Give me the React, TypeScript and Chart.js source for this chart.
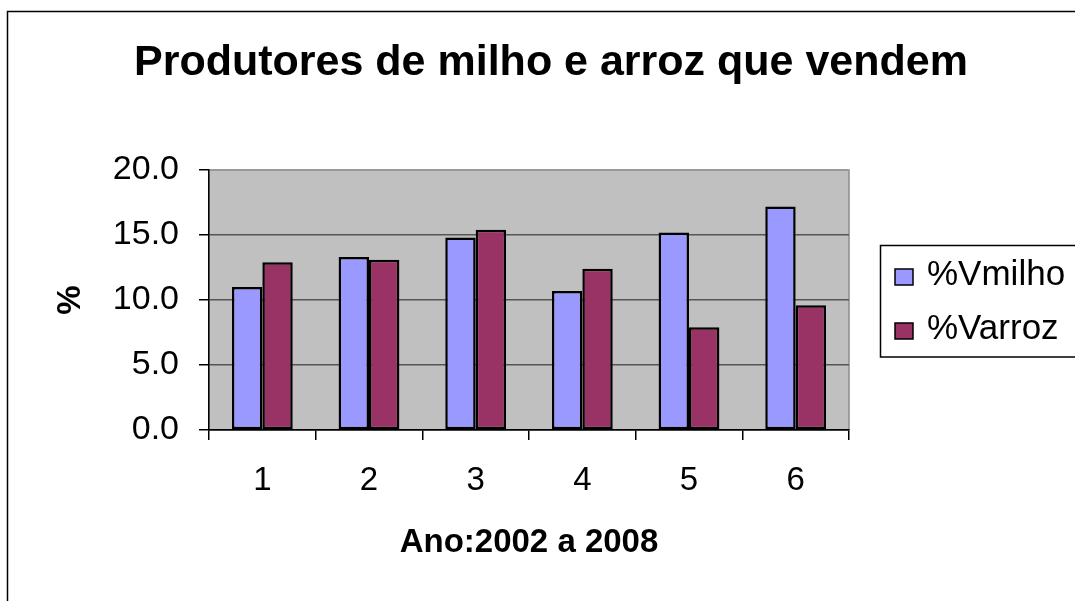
import React, { useEffect, useRef } from 'react';
import { Chart, registerables } from 'chart.js';

Chart.register(...registerables);

const FONT = "'Liberation Sans', Arial, Helvetica, sans-serif";

const categories = ['1', '2', '3', '4', '5', '6'];
const milho = [11.0, 13.3, 14.8, 10.7, 15.2, 17.2];
const arroz = [12.9, 13.1, 15.4, 12.4, 7.9, 9.6];
const seriesLabels = ['%Vmilho', '%Varroz'];
const seriesColors = ['#9999FF', '#993366'];
const yTicks = [0, 5, 10, 15, 20];
const titleText = 'Produtores de milho e arroz que vendem';
const xTitle = 'Ano:2002 a 2008';
const yTitle = '%';

const decor = {
  id: 'decor',
  beforeDraw(chart: any) {
    const ctx = chart.ctx;
    const a = chart.chartArea;
    ctx.save();
    ctx.fillStyle = '#ffffff';
    ctx.fillRect(0, 0, chart.width, chart.height);
    ctx.strokeStyle = '#000000';
    ctx.lineWidth = 1.5;
    ctx.strokeRect(7.5, 11.5, chart.width + 100, chart.height + 100);
    ctx.fillStyle = '#C0C0C0';
    ctx.fillRect(a.left, a.top, a.right - a.left, a.bottom - a.top);
    ctx.strokeStyle = '#8c8c8c';
    ctx.lineWidth = 1.5;
    ctx.strokeRect(a.left, a.top, a.right - a.left, a.bottom - a.top);
    ctx.fillStyle = '#000000';
    ctx.font = `bold 43px ${FONT}`;
    ctx.textAlign = 'center';
    ctx.textBaseline = 'middle';
    ctx.fillText(titleText, 551, 63);
    ctx.restore();
  },
  afterDraw(chart: any) {
    const ctx = chart.ctx;
    ctx.save();
    ctx.strokeStyle = '#000000';
    ctx.lineWidth = 1.5;
    ctx.strokeRect(880.5, 245.5, 400, 111.5);
    const rows = [277, 331];
    chart.data.datasets.forEach((ds: any, i: number) => {
      const cy = rows[i];
      ctx.fillStyle = ds.backgroundColor;
      ctx.fillRect(895, cy - 8, 18, 16);
      ctx.lineWidth = 1.5;
      ctx.strokeStyle = '#000000';
      ctx.strokeRect(895, cy - 8, 18, 16);
      ctx.fillStyle = '#000000';
      ctx.font = `35px ${FONT}`;
      ctx.textAlign = 'left';
      ctx.textBaseline = 'middle';
      ctx.fillText(ds.label, 927, cy - 2);
    });
    ctx.restore();
  },
};

export default function App() {
  const ref = useRef<HTMLCanvasElement | null>(null);

  useEffect(() => {
    if (!ref.current) return;
    const chart = new Chart(ref.current, {
      type: 'bar',
      data: {
        labels: categories,
        datasets: [
          {
            label: seriesLabels[0],
            data: milho,
            backgroundColor: seriesColors[0],
            borderColor: '#000000',
            borderWidth: 2.5,
            borderSkipped: false,
            categoryPercentage: 0.57,
            barPercentage: 1.0,
          },
          {
            label: seriesLabels[1],
            data: arroz,
            backgroundColor: seriesColors[1],
            borderColor: '#000000',
            borderWidth: 2.5,
            borderSkipped: false,
            categoryPercentage: 0.57,
            barPercentage: 1.0,
          },
        ],
      },
      options: {
        animation: false,
        responsive: false,
        devicePixelRatio: 1,
        events: [],
        layout: { padding: { top: 170, right: 226, bottom: 0, left: 0 } },
        plugins: {
          legend: { display: false },
          title: { display: false },
          tooltip: { enabled: false },
        },
        scales: {
          x: {
            grid: {
              offset: true,
              drawOnChartArea: false,
              drawTicks: true,
              tickLength: 10,
              color: '#000000',
              lineWidth: 1.5,
            },
            border: { color: '#000000', width: 1.5 },
            ticks: {
              font: { size: 33, family: FONT },
              color: '#000000',
              padding: 21,
              maxRotation: 0,
            },
            title: {
              display: true,
              text: xTitle,
              color: '#000000',
              font: { size: 33, weight: 'bold', family: FONT },
              padding: { top: 0, bottom: 38 },
            },
            afterFit: (s: any) => {
              s.height = 171;
            },
          },
          y: {
            min: 0,
            max: 20,
            afterBuildTicks: (s: any) => {
              s.ticks = yTicks.map((v) => ({ value: v }));
            },
            ticks: {
              font: { size: 34, family: FONT },
              color: '#000000',
              padding: 20,
              callback: (v: any) => Number(v).toFixed(1),
            },
            grid: {
              color: (c: any) => (c.tick && c.tick.value === 20 ? '#9a9a9a' : '#555555'),
              tickColor: '#000000',
              tickLength: 10,
              lineWidth: 1.5,
            },
            border: { color: '#000000', width: 1.5 },
            title: {
              display: true,
              text: yTitle,
              color: '#000000',
              font: { size: 33, weight: 'bold', family: FONT },
              padding: { top: 51, bottom: 0 },
            },
            afterFit: (s: any) => {
              s.width = 209;
            },
          },
        },
      },
      plugins: [decor],
    });
    return () => chart.destroy();
  }, []);

  return (
    <div style={{ position: 'fixed', left: 0, top: 0, width: 1075, height: 601, overflow: 'hidden', background: '#fff' }}>
      <canvas ref={ref} width={1075} height={601} style={{ display: 'block', width: 1075, height: 601 }} />
    </div>
  );
}
